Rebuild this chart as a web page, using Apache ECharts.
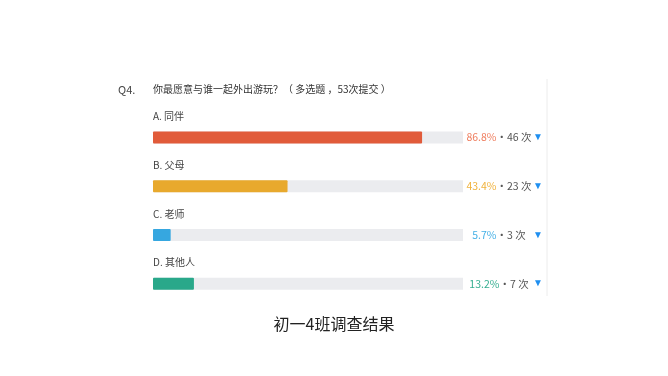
<!DOCTYPE html>
<html><head><meta charset="utf-8">
<script src="https://cdn.jsdelivr.net/npm/echarts@6/dist/echarts.min.js"></script>
<style>html,body{margin:0;padding:0;background:#fff}#c{width:668px;height:376px}</style>
</head><body><div id="c"></div>
<script>
const categories = ['A. 同伴', 'B. 父母', 'C. 老师', 'D. 其他人'];
const percents = [86.8, 43.4, 5.7, 13.2];
const counts = [46, 23, 3, 7];
const barColors = ['#e15b3a', '#e8a92d', '#36a7e0', '#29a88a'];
const pctColors = ['#ef7d5e', '#f0b23c', '#45b0e6', '#35ae90'];
const questionNo = 'Q4.';
const questionText = '你最愿意与谁一起外出游玩？（ 多选题 ，53次提交 ）';
const caption = '初一4班调查结果';

const FONT = '"Noto Sans CJK SC", "Noto Sans", sans-serif';
const chart = echarts.init(document.getElementById('c'));
const rich = { s: { color: '#555', fontSize: 10.5, fontFamily: FONT } };
pctColors.forEach((c, i) => { rich['p' + i] = { color: c, fontSize: 10.5, fontFamily: FONT }; });

chart.setOption({
  animation: false,
  title: [
    { text: questionNo, left: 118, top: 84, padding: 0, textStyle: { fontSize: 11, fontWeight: 'normal', color: '#444', fontFamily: FONT } },
    { text: questionText, left: 153, top: 84, padding: 0, textStyle: { fontSize: 10, fontWeight: 'normal', color: '#333', fontFamily: FONT } },
    { text: caption, left: 'center', top: 316, padding: 0, textStyle: { fontSize: 16, fontWeight: 'normal', color: '#222', fontFamily: FONT } }
  ],
  grid: { left: 153, right: 205, top: 113, bottom: 68, containLabel: false },
  xAxis: { type: 'value', min: 0, max: 100, show: false },
  yAxis: [
    { type: 'category', data: categories, inverse: true,
      axisLine: { show: false }, axisTick: { show: false }, splitLine: { show: false },
      axisLabel: { show: false } },
    { type: 'category', data: categories, inverse: true, position: 'right',
      axisLine: { show: false }, axisTick: { show: false },
      axisLabel: { align: 'center', margin: 36, rich: rich,
        formatter: (v, i) => `{p${i}|${percents[i]}%}{s|·${counts[i]} 次}` } },
    { type: 'category', data: categories, inverse: true, position: 'right',
      axisLine: { show: false }, axisTick: { show: false },
      axisLabel: { align: 'center', margin: 75, fontSize: 10, color: '#1f8ff0', padding: [3, 0, 0, 0], formatter: () => '▼' } }
  ],
  series: [{
    type: 'bar', yAxisIndex: 0, data: percents, barWidth: 12,
    itemStyle: { color: (p) => barColors[p.dataIndex], borderRadius: 1 },
    showBackground: true, backgroundStyle: { color: '#ebecef' },
    label: { show: true, position: [0, -15], align: 'left', verticalAlign: 'middle',
      formatter: (p) => categories[p.dataIndex], fontSize: 10, color: '#444', fontFamily: FONT }
  }],
  graphic: [{ type: 'line', shape: { x1: 547, y1: 79, x2: 547, y2: 296 }, style: { stroke: '#ececec', lineWidth: 1 } }]
});
</script></body></html>
